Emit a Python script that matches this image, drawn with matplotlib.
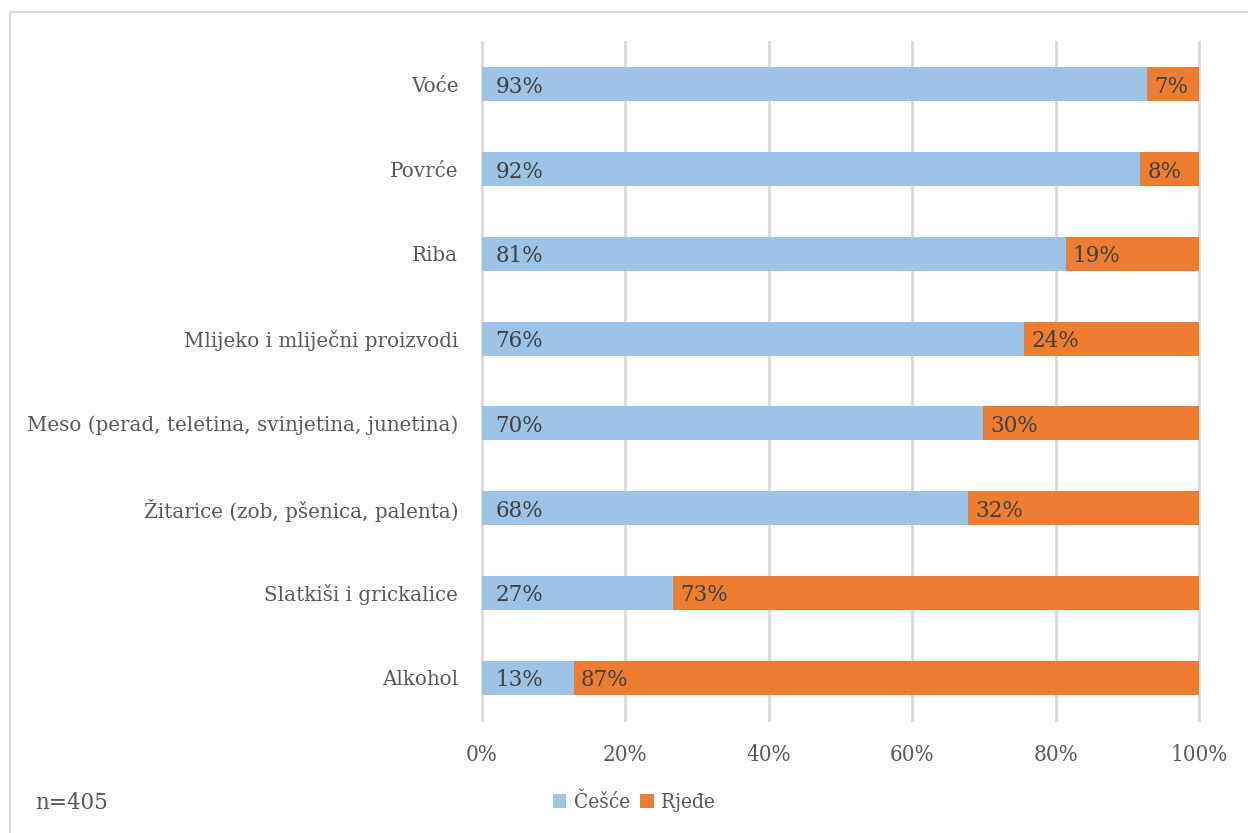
import matplotlib
matplotlib.use("Agg")
import matplotlib.pyplot as plt
from matplotlib.patches import Rectangle
import numpy as np

categories = ["Voće", "Povrće", "Riba", "Mlijeko i mliječni proizvodi",
              "Meso (perad, teletina, svinjetina, junetina)",
              "Žitarice (zob, pšenica, palenta)", "Slatkiši i grickalice", "Alkohol"]
cesce = [92.7, 91.8, 81.4, 75.6, 69.9, 67.8, 26.6, 12.8]
rjede = [7.3, 8.2, 18.6, 24.4, 30.1, 32.2, 73.4, 87.2]
label_cesce = ["93%", "92%", "81%", "76%", "70%", "68%", "27%", "13%"]
label_rjede = ["7%", "8%", "19%", "24%", "30%", "32%", "73%", "87%"]
xticks = [0, 20, 40, 60, 80, 100]
xtick_labels = ["0%", "20%", "40%", "60%", "80%", "100%"]

blue = "#9DC3E6"
orange = "#ED7D31"
txt = "#595959"
lbl = "#404040"

fig = plt.figure(figsize=(12.48, 8.33), dpi=100)
ax = fig.add_axes([0.3862, 0.1357, 0.5745, 0.8139])

y = np.arange(len(categories))
h = 0.40
ax.barh(y, cesce, height=h, color=blue, label="Češće", zorder=3)
ax.barh(y, rjede, left=cesce, height=h, color=orange, label="Rjeđe", zorder=3)

for i in range(len(categories)):
    ax.text(1.9, y[i] + 0.03, label_cesce[i], va="center", ha="left", fontsize=15.5,
            family="DejaVu Serif", color=lbl, zorder=4)
    ax.text(cesce[i] + 1.0, y[i] + 0.03, label_rjede[i], va="center", ha="left", fontsize=15.5,
            family="DejaVu Serif", color=lbl, zorder=4)

ax.set_xlim(0, 100)
ax.set_ylim(len(categories) - 0.5, -0.5)
ax.set_xticks(xticks)
ax.set_xticklabels(xtick_labels, family="DejaVu Serif", stretch="condensed",
                   fontsize=16, color=txt)
ax.set_yticks(y)
ax.set_yticklabels(categories, family="DejaVu Serif", fontsize=14.3, color=txt)
ax.tick_params(axis="both", length=0)
ax.tick_params(axis="x", pad=17)
ax.tick_params(axis="y", pad=17)
for s in ax.spines.values():
    s.set_visible(False)
ax.grid(axis="x", color="#D9D9D9", linewidth=2, zorder=0)
for gl in ax.get_xgridlines():
    gl.set_clip_on(False)
ax.set_axisbelow(True)

leg = fig.legend(loc="center", bbox_to_anchor=(0.508, 0.037), ncol=2, frameon=False,
                 prop={"family": "DejaVu Serif", "stretch": "condensed", "size": 15},
                 handlelength=0.65, handleheight=0.65, handletextpad=0.35, columnspacing=0.5)
for t in leg.get_texts():
    t.set_color(txt)

fig.text(0.028, 0.036, "n=405", family="DejaVu Serif", fontsize=15.5, color=txt,
         ha="left", va="center")

fig.patches.append(Rectangle((0.008, -0.01), 0.995, 0.996, transform=fig.transFigure,
                             fill=False, edgecolor="#D9D9D9", linewidth=1.5))

fig.savefig("out.png", dpi=100)
